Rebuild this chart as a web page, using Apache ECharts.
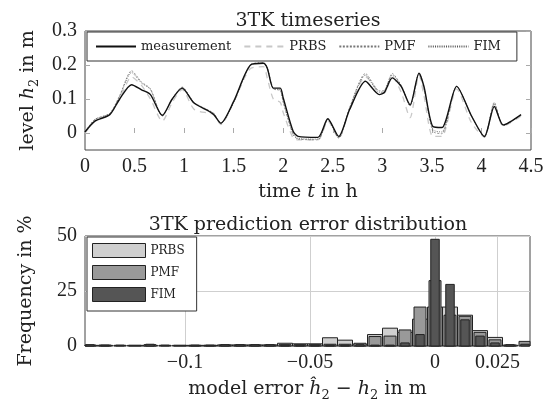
<!DOCTYPE html>
<html>
<head>
<meta charset="utf-8">
<script src="https://cdn.jsdelivr.net/npm/echarts@6/dist/echarts.min.js"></script>
<style>
  html, body { margin: 0; padding: 0; background: #fff; }
  #main { width: 551px; height: 403px; }
</style>
</head>
<body>
<div id="main"></div>
<script>
// time axis knots (h) and water level h2 (m) per model
const times = [0, 0.1, 0.25, 0.35, 0.47, 0.57, 0.66, 0.78, 0.88, 0.98, 1.1, 1.25, 1.3, 1.37, 1.5, 1.67, 1.8, 1.84, 1.9, 1.97, 2.0, 2.1, 2.15, 2.35, 2.45, 2.56, 2.67, 2.83, 2.97, 3.02, 3.1, 3.19, 3.28, 3.37, 3.42, 3.51, 3.6, 3.75, 3.9, 4.03, 4.13, 4.22, 4.4];
const measurement = [0.003, 0.035, 0.054, 0.1, 0.142, 0.127, 0.113, 0.052, 0.1, 0.132, 0.088, 0.064, 0.054, 0.029, 0.093, 0.2, 0.205, 0.19, 0.132, 0.132, 0.103, 0.005, -0.01, -0.013, 0.042, -0.01, 0.069, 0.152, 0.113, 0.119, 0.162, 0.137, 0.083, 0.176, 0.137, 0.019, 0.016, 0.137, 0.05, -0.01, 0.078, 0.024, 0.054];
const prbs = [0.0, 0.035, 0.055, 0.1, 0.165, 0.14, 0.1, 0.035, 0.09, 0.128, 0.07, 0.058, 0.055, 0.025, 0.09, 0.19, 0.195, 0.16, 0.1, 0.09, 0.06, -0.015, -0.02, -0.02, 0.035, -0.015, 0.07, 0.165, 0.12, 0.118, 0.165, 0.12, 0.045, 0.17, 0.11, -0.01, -0.01, 0.13, 0.03, -0.012, 0.085, 0.02, 0.05];
const pmf = [0.003, 0.04, 0.058, 0.11, 0.183, 0.15, 0.13, 0.05, 0.1, 0.135, 0.09, 0.066, 0.058, 0.027, 0.09, 0.2, 0.207, 0.19, 0.13, 0.125, 0.09, -0.005, -0.018, -0.02, 0.04, -0.015, 0.075, 0.175, 0.124, 0.125, 0.175, 0.14, 0.08, 0.176, 0.13, 0.005, -0.002, 0.137, 0.05, -0.012, 0.09, 0.022, 0.054];
const fim = [0.004, 0.04, 0.057, 0.108, 0.178, 0.147, 0.128, 0.05, 0.1, 0.134, 0.09, 0.066, 0.057, 0.028, 0.09, 0.2, 0.206, 0.19, 0.131, 0.127, 0.093, -0.003, -0.016, -0.018, 0.04, -0.014, 0.073, 0.17, 0.12, 0.123, 0.17, 0.14, 0.08, 0.176, 0.132, 0.01, 0.003, 0.137, 0.05, -0.012, 0.085, 0.022, 0.054];
const levelTicks = [0, 0.1, 0.2, 0.3];

// prediction error histogram: bin centres (m) and frequency (%)
const binCenters = [-0.138, -0.132, -0.126, -0.12, -0.114, -0.108, -0.102, -0.096, -0.09, -0.084, -0.078, -0.072, -0.066, -0.06, -0.054, -0.048, -0.042, -0.036, -0.03, -0.024, -0.018, -0.012, -0.006, 0, 0.006, 0.012, 0.018, 0.024, 0.03, 0.036];
const prbsFreq = [0.3, 0.3, 0, 0.3, 0.3, 0, 0.3, 0.3, 0.3, 0.5, 0.5, 0.5, 0.5, 1.25, 1.0, 1.0, 3.75, 2.65, 0.8, 5.2, 8.1, 6.2, 12.2, 17.7, 17.7, 14, 7, 3.9, 0.4, 0];
const pmfFreq = [0.4, 0.4, 0.3, 0.3, 0.6, 0.3, 0.3, 0.3, 0.3, 0.4, 0.4, 0.4, 0.4, 0.6, 0.6, 0.6, 0.8, 0.8, 1.25, 4.3, 4.5, 7.3, 17.7, 29.7, 14, 13.5, 6.2, 2.8, 0.4, 2.1];
const fimFreq = [0.6, 0.4, 0.4, 0, 0.8, 0.4, 0, 0.4, 0.4, 0.6, 0.6, 0.6, 0.6, 0.4, 0.4, 0.4, 0.4, 0.4, 0.6, 0.4, 0.4, 1.4, 5.2, 48.5, 28, 11.9, 4.5, 1.4, 0.6, 0.8];
const errorTicks = [-0.1, -0.05, 0, 0.025];

const chart = echarts.init(document.getElementById("main"));

const serif = "DejaVu Serif";
const numFont = "Liberation Serif";
const ink = "#222";

const pairs = (vals) => times.map((t, i) => [t, vals[i]]);
const minus = (v) => (v < 0 ? "\u2212" + String(Math.abs(v)) : String(v));

const nameRich = {
  a: { fontFamily: serif, fontSize: 19, color: ink },
  i: { fontFamily: serif, fontSize: 19, fontStyle: "italic", color: ink },
  s: { fontFamily: serif, fontSize: 13, color: ink, padding: [12, 0, 0, 0] },
};

function histSeries(name, freq, width, color) {
  return {
    name,
    type: "custom",
    xAxisIndex: 1,
    yAxisIndex: 2,
    encode: { x: 0, y: 1 },
    itemStyle: { color, borderColor: "#222", borderWidth: 1 },
    data: binCenters.map((c, i) => [c, freq[i]]),
    renderItem: (params, api) => {
      const c = api.value(0);
      const f = api.value(1);
      if (!f) return;
      const p0 = api.coord([c - width / 2, f]);
      const p1 = api.coord([c + width / 2, 0]);
      const shape = echarts.graphic.clipRectByRect(
        { x: p0[0], y: p0[1], width: p1[0] - p0[0], height: p1[1] - p0[1] },
        {
          x: params.coordSys.x,
          y: params.coordSys.y,
          width: params.coordSys.width,
          height: params.coordSys.height,
        }
      );
      if (!shape) return;
      return {
        type: "rect",
        shape,
        style: { fill: color, stroke: "#222", lineWidth: 1 },
      };
    },
  };
}

function lineSeries(name, vals, color, width, type) {
  return {
    name,
    type: "line",
    xAxisIndex: 0,
    yAxisIndex: 0,
    symbol: "none",
    smooth: 0.25,
    lineStyle: { color, width, type },
    itemStyle: { color },
    data: pairs(vals),
  };
}

const tickStyle = { show: true, inside: true, length: 5, lineStyle: { color: "#aaa" } };
const gridLine = { show: true, lineStyle: { color: "#cfcfcf", width: 1 } };

const option = {
  animation: false,
  backgroundColor: "#fff",
  title: [
    {
      text: "3TK timeseries",
      left: 308,
      top: 12,
      textAlign: "center",
      padding: 0,
      textStyle: { fontFamily: serif, fontSize: 19, fontWeight: "normal", color: ink },
    },
    {
      text: "3TK prediction error distribution",
      left: 308,
      top: 216,
      textAlign: "center",
      padding: 0,
      textStyle: { fontFamily: serif, fontSize: 19, fontWeight: "normal", color: ink },
    },
  ],
  legend: [
    {
      data: ["measurement", "PRBS", "PMF", "FIM"],
      left: 87,
      top: 32,
      orient: "horizontal",
      itemWidth: 40,
      itemHeight: 14,
      itemGap: 12,
      padding: [8, 16, 8, 8],
      backgroundColor: "#fff",
      borderColor: "#333",
      borderWidth: 1,
      borderRadius: 0,
      itemStyle: { opacity: 0 },
      textStyle: { fontFamily: serif, fontSize: 13, color: ink },
    },
    {
      data: [
        { name: "PRBS", icon: "rect", itemStyle: { color: "#cfcfcf", borderColor: "#222", borderWidth: 1 } },
        { name: "PMF", icon: "rect", itemStyle: { color: "#999999", borderColor: "#222", borderWidth: 1 } },
        { name: "FIM", icon: "rect", itemStyle: { color: "#555555", borderColor: "#222", borderWidth: 1 } },
      ],
      left: 87,
      top: 237,
      orient: "vertical",
      itemWidth: 53,
      itemHeight: 14,
      itemGap: 7,
      padding: [6, 12, 9, 5],
      backgroundColor: "#fff",
      borderColor: "#333",
      borderWidth: 1,
      borderRadius: 0,
      textStyle: { fontFamily: serif, fontSize: 12, color: ink },
    },
  ],
  grid: [
    { left: 85, top: 31, width: 446, height: 119, show: true, borderColor: "#444", borderWidth: 1 },
    { left: 85, top: 236, width: 445, height: 119, show: true, borderColor: "#444", borderWidth: 1 },
  ],
  xAxis: [
    {
      gridIndex: 0,
      type: "value",
      min: 0,
      max: 4.5,
      interval: 0.5,
      axisLine: { show: false },
      axisTick: tickStyle,
      splitLine: { show: false },
      axisLabel: { fontFamily: numFont, fontSize: 20, color: ink, margin: 7, showMinLabel: true, showMaxLabel: true },
      name: "{a|time }{i|t}{a| in h}",
      nameLocation: "middle",
      nameGap: 33,
      nameTextStyle: { rich: nameRich },
    },
    {
      gridIndex: 1,
      type: "value",
      min: -0.14,
      max: 0.038,
      axisLine: { show: false },
      axisTick: { show: false, customValues: errorTicks },
      splitLine: gridLine,
      axisLabel: { customValues: errorTicks, formatter: minus, fontFamily: numFont, fontSize: 20, color: ink, margin: 7 },
      name: "{a|model error }{i|\u0125}{s|2}{a| \u2212 }{i|h}{s|2}{a| in m}",
      nameLocation: "middle",
      nameGap: 31,
      nameTextStyle: { rich: nameRich },
    },
  ],
  yAxis: [
    {
      gridIndex: 0,
      type: "value",
      min: -0.05,
      max: 0.3,
      axisLine: { show: false },
      axisTick: Object.assign({}, tickStyle, { customValues: levelTicks }),
      splitLine: { show: false },
      axisLabel: { customValues: levelTicks, fontFamily: numFont, fontSize: 20, color: ink, margin: 8 },
      name: "{a|level }{i|h}{s|2}{a| in m}",
      nameLocation: "middle",
      nameGap: 44,
      nameTextStyle: { rich: nameRich },
    },
    {
      gridIndex: 0,
      type: "value",
      position: "right",
      min: -0.05,
      max: 0.3,
      axisLine: { show: false },
      axisTick: Object.assign({}, tickStyle, { customValues: levelTicks }),
      splitLine: { show: false },
      axisLabel: { show: false },
    },
    {
      gridIndex: 1,
      type: "value",
      min: 0,
      max: 50,
      interval: 25,
      axisLine: { show: false },
      axisTick: { show: false },
      splitLine: gridLine,
      axisLabel: { fontFamily: numFont, fontSize: 20, color: ink, margin: 8 },
      name: "Frequency in %",
      nameLocation: "middle",
      nameGap: 49,
      nameTextStyle: { fontFamily: serif, fontSize: 19, color: ink },
    },
  ],
  series: [
    lineSeries("PRBS", prbs, "#c8c8c8", 1.3, [6, 5]),
    lineSeries("PMF", pmf, "#777", 0.8, [2, 1.5]),
    lineSeries("FIM", fim, "#555", 0.8, [1, 1.2]),
    lineSeries("measurement", measurement, "#111", 1.4, "solid"),
    histSeries("PRBS", prbsFreq, 0.006, "#cfcfcf"),
    histSeries("PMF", pmfFreq, 0.0048, "#999999"),
    histSeries("FIM", fimFreq, 0.0034, "#555555"),
  ],
};

chart.setOption(option);
</script>
</body>
</html>
